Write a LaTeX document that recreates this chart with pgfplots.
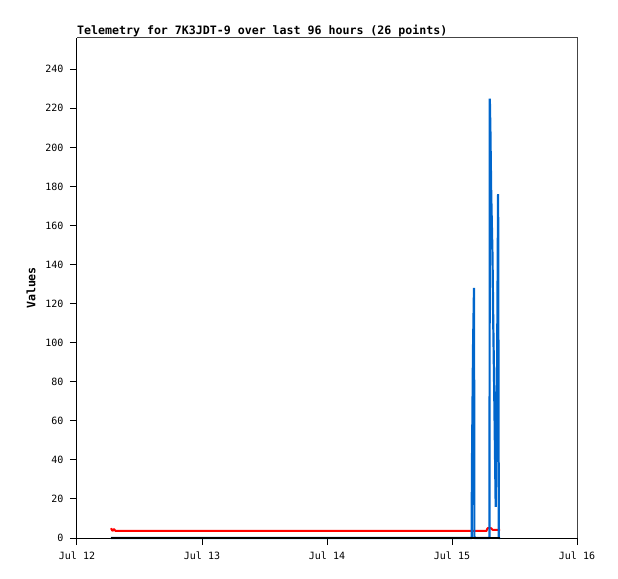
\documentclass[border=0pt]{standalone}
\usepackage{fontspec}
\setmonofont{DejaVu Sans Mono}
\usepackage{pgfplots}
\usepackage{pgfplotstable}
\pgfplotsset{compat=1.18}
\definecolor{frame}{RGB}{68,68,68}
\definecolor{sblue}{RGB}{0,102,204}
\definecolor{sred}{RGB}{255,0,0}
\pgfplotstableread{
t blue red blk
0.2720 0 5.0 0
0.2840 0 3.6 0
0.2960 0 4.6 0
0.3080 0 3.6 0
3.1520 0 3.6 0
3.1576 0 3.6 0
3.1592 32 3.6 0
3.1680 96 3.6 0
3.1760 128 3.6 0
3.1792 0 3.6 0
3.2760 0 3.6 0
3.2840 0 5.0 0
3.3000 0 5.0 0
3.3024 225 5.0 0
3.3072 208 5.0 0
3.3136 176 5.0 0
3.3240 144 4.2 0
3.3296 112 4.2 0
3.3368 80 4.2 0
3.3432 48 4.2 0
3.3496 16 4.2 0
3.3608 88 4.2 0
3.3688 176 4.2 0
3.3744 0 4.2 0
3.3840 0 4.2 0
}\telem
\begin{document}
\begin{tikzpicture}
\useasboundingbox (-77bp,-41bp) rectangle (541bp,538bp);
\begin{axis}[
  at={(0,0)}, anchor=south west,
  scale only axis, width=500bp, height=500bp,
  xmin=0, xmax=4, ymin=0, ymax=256,
  clip=false,
  axis x line*=bottom, axis y line*=left,
  axis line style={-, black, line width=1bp},
  xtick={0,1,2,3,4},
  xticklabels={Jul 12,Jul 13,Jul 14,Jul 15,Jul 16},
  ytick={0,20,...,240},
  tick align=outside, major tick length=7bp,
  every tick/.style={black, line width=1bp},
  minor tick num=0,
  tick label style={font=\ttfamily\fontsize{10bp}{12bp}\selectfont},
  yticklabel style={xshift=-3bp},
  xticklabel style={yshift=-3bp},
  /pgf/number format/assume math mode=true,
]
\addplot[sred, line width=2bp, line join=bevel] table[x=t, y=red] {\telem};
\addplot[sblue, line width=2.2bp, line join=bevel] table[x=t, y=blue] {\telem};
\addplot[black, line width=2bp, line join=bevel] table[x=t, y=blk] {\telem};
\draw[frame, line width=1bp] (rel axis cs:0,1) -- (rel axis cs:1,1) -- (rel axis cs:1,0);
\node[anchor=base west, inner sep=0pt, yshift=3.5bp, font=\ttfamily\bfseries\fontsize{11.6bp}{14bp}\selectfont] at (rel axis cs:0,1) {Telemetry for 7K3JDT-9 over last 96 hours (26 points)};
\node[rotate=90, inner sep=0pt, font=\ttfamily\bfseries\fontsize{11.6bp}{14bp}\selectfont] at (rel axis cs:-0.092,0.5) {Values};
\end{axis}
\end{tikzpicture}
\end{document}
